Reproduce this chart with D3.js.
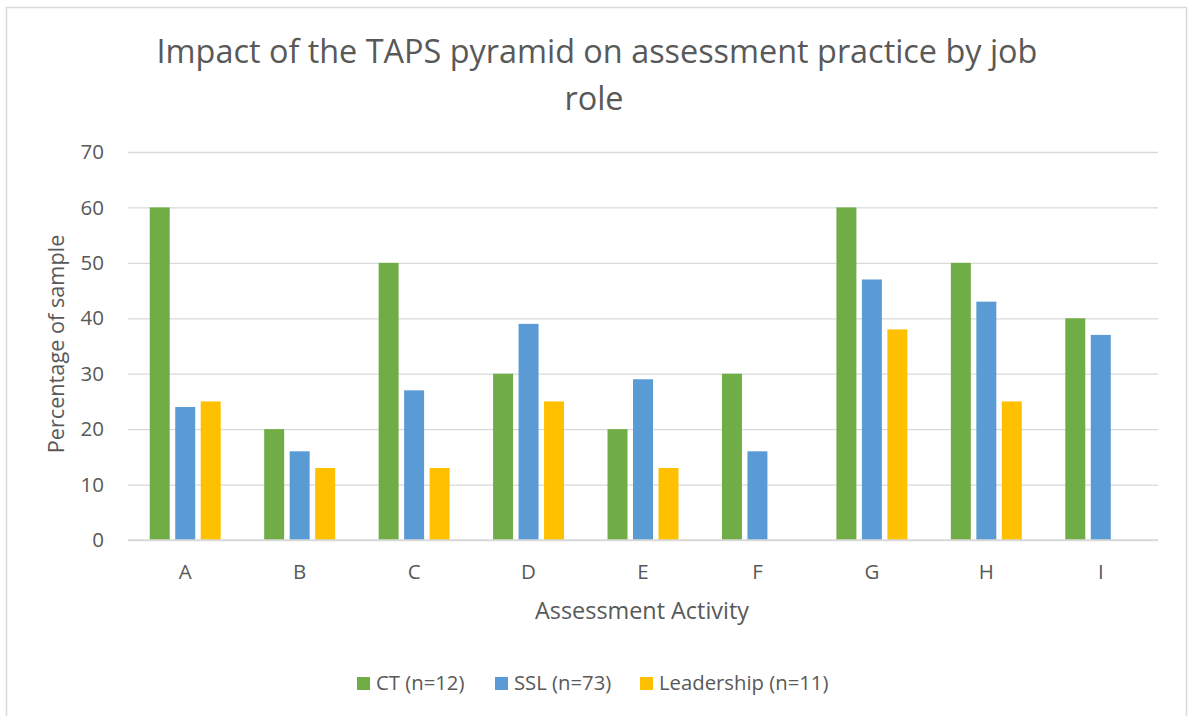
<!DOCTYPE html>
<meta charset="utf-8">
<style>
  body { margin: 0; background: #fff; }
  svg { display: block; font-family: "Open Sans", "DejaVu Sans", sans-serif; }
  .grid line { stroke: #d9d9d9; stroke-width: 1.3; }
  .grid .domain { display: none; }
  text { fill: #595959; }
</style>
<body>
<svg width="1188" height="716"></svg>
<script src="https://d3js.org/d3.v7.min.js"></script>
<script>

// categories and series
let categories = ["A", "B", "C", "D", "E", "F", "G", "H", "I"];
let seriesNames = ["CT (n=12)", "SSL (n=73)", "Leadership (n=11)"];
let seriesColors = ["#70ad47", "#5b9bd5", "#ffc000"];
let ctValues = [60, 20, 50, 30, 20, 30, 60, 50, 40];
let sslValues = [24, 16, 27, 39, 29, 16, 47, 43, 37];
let leadValues = [25, 13, 13, 25, 13, 0, 38, 25, 0];
let yTicks = [0, 10, 20, 30, 40, 50, 60, 70];

let series = [ctValues, sslValues, leadValues];

let margin = {top: 152, right: 30, bottom: 176, left: 128};
let width = 1158 - margin.left, height = 540 - margin.top;

let svg = d3.select("svg");

// chart border
svg.append("rect")
  .attr("x", 6.5).attr("y", 7.5)
  .attr("width", 1180).attr("height", 720)
  .attr("fill", "none")
  .attr("stroke", "#d9d9d9")
  .attr("stroke-width", 1.5);

// title
let title = svg.append("text")
  .attr("text-anchor", "middle")
  .style("font-size", "32.4px");
title.append("tspan").attr("x", 597).attr("y", 63).text("Impact of the TAPS pyramid on assessment practice by job");
title.append("tspan").attr("x", 594).attr("y", 110).text("role");

let g = svg.append("g")
  .attr("transform", "translate(" + margin.left + "," + margin.top + ")");

let x0 = d3.scaleBand()
  .domain(categories)
  .range([0, width])
  .paddingInner(0.38)
  .paddingOuter(0.19);

let x1 = d3.scaleBand()
  .domain(d3.range(seriesNames.length))
  .range([0, x0.bandwidth()])
  .paddingInner(0.216);

let y = d3.scaleLinear()
  .domain([0, 70])
  .range([height, 0]);

// gridlines
g.append("g")
  .attr("class", "grid")
  .call(d3.axisLeft(y).tickValues(yTicks).tickSize(-width).tickFormat(""));

// y tick labels
g.selectAll(".ylab")
  .data(yTicks)
  .enter().append("text")
  .attr("class", "ylab")
  .attr("x", -24)
  .attr("y", d => y(d))
  .attr("dy", "0.35em")
  .attr("text-anchor", "end")
  .style("font-size", "20.5px")
  .text(d => d);

// bars
let groups = g.selectAll(".cat")
  .data(categories)
  .enter().append("g")
  .attr("class", "cat")
  .attr("transform", d => "translate(" + x0(d) + ",0)");

groups.selectAll("rect")
  .data((d, i) => series.map((s, k) => ({k: k, v: s[i]})))
  .enter().append("rect")
  .attr("x", d => x1(d.k))
  .attr("y", d => y(d.v))
  .attr("width", x1.bandwidth())
  .attr("height", d => height - y(d.v))
  .attr("fill", d => seriesColors[d.k]);

// x axis line
g.append("line")
  .attr("x1", 0).attr("x2", width)
  .attr("y1", height).attr("y2", height)
  .attr("stroke", "#d9d9d9")
  .attr("stroke-width", 1.5);

// category labels
g.selectAll(".xlab")
  .data(categories)
  .enter().append("text")
  .attr("class", "xlab")
  .attr("x", d => x0(d) + x0.bandwidth() / 2)
  .attr("y", height + 39)
  .attr("text-anchor", "middle")
  .style("font-size", "20.5px")
  .text(d => d);

// axis titles
svg.append("text")
  .attr("x", 642).attr("y", 619)
  .attr("text-anchor", "middle")
  .style("font-size", "23.4px")
  .text("Assessment Activity");

svg.append("text")
  .attr("transform", "translate(64,344) rotate(-90)")
  .attr("text-anchor", "middle")
  .style("font-size", "21.7px")
  .text("Percentage of sample");

// legend
let legendX = [357, 495, 640];
let legend = svg.selectAll(".leg")
  .data(seriesNames)
  .enter().append("g")
  .attr("class", "leg")
  .attr("transform", (d, i) => "translate(" + legendX[i] + ",677)");

legend.append("rect")
  .attr("width", 13).attr("height", 13)
  .attr("fill", (d, i) => seriesColors[i]);

legend.append("text")
  .attr("x", 19).attr("y", 12.5)
  .style("font-size", "20.3px")
  .text(d => d);

</script>
</body>
